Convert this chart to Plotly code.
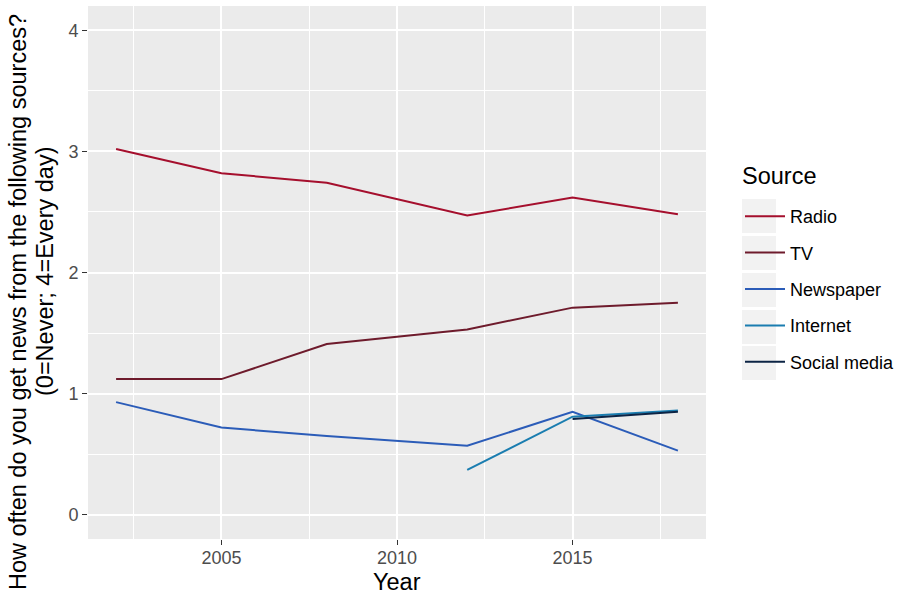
import plotly.graph_objects as go

# ---------------- data ----------------
years_all = [2002, 2005, 2008, 2012, 2015, 2018]
radio = [3.02, 2.82, 2.74, 2.47, 2.62, 2.48]
tv = [1.12, 1.12, 1.41, 1.53, 1.71, 1.75]
newspaper = [0.93, 0.72, 0.65, 0.57, 0.85, 0.53]
years_internet = [2012, 2015, 2018]
internet = [0.37, 0.81, 0.86]
years_social = [2015, 2018]
social_media = [0.79, 0.85]

series_names = ["Radio", "TV", "Newspaper", "Internet", "Social media"]
series_x = [years_all, years_all, years_all, years_internet, years_social]
series_y = [radio, tv, newspaper, internet, social_media]
series_colors = ["#a50f2d", "#6e1b2c", "#2b5cb8", "#1a7db0", "#0c2445"]

x_ticks = [2005, 2010, 2015]
y_ticks = [0, 1, 2, 3, 4]

y_title_1 = "How often do you get news from the following sources?"
y_title_2 = "(0=Never; 4=Every day)"
x_title = "Year"
legend_title = "Source"

# ---------------- layout constants (pixels) ----------------
W, H = 921, 600
L, R, T, B = 88, 215, 6, 61
PW, PH = W - L - R, H - T - B
FONT = "Liberation Sans, Arial, sans-serif"
TITLE_SIZE = 23.5
TEXT_SIZE = 18


def px_x(p):
    return (p - L) / PW


def px_y(p):
    return (H - B - p) / PH


fig = go.Figure()
for name, xs, ys, col in zip(series_names, series_x, series_y, series_colors):
    fig.add_trace(go.Scatter(
        x=xs, y=ys, mode="lines", name=name, legendgroup=name,
        line=dict(color=col, width=2),
    ))

# legend key backgrounds
entry_centers = [216, 253, 290, 327, 363]
shapes = []
for c in entry_centers:
    shapes.append(dict(type="rect", xref="paper", yref="paper",
                       x0=px_x(742), x1=px_x(776), y0=px_y(c + 17), y1=px_y(c - 17),
                       fillcolor="#f2f2f2", line=dict(width=0), layer="below"))

axis_common = dict(
    showline=False, zeroline=False, ticks="outside", ticklen=5, tickwidth=1.2,
    tickcolor="#333333", gridcolor="#ffffff", gridwidth=1.6,
    tickfont=dict(family=FONT, size=TEXT_SIZE, color="#4d4d4d"),
)

fig.update_layout(
    width=W, height=H,
    margin=dict(l=L, r=R, t=T, b=B, autoexpand=False),
    paper_bgcolor="#ffffff", plot_bgcolor="#ebebeb",
    font=dict(family=FONT, color="#000000"),
    xaxis=dict(range=[2001.2, 2018.8], tickvals=x_ticks, ticklabelstandoff=-3,
               **axis_common,
               minor=dict(tickvals=[2002.5, 2007.5, 2012.5, 2017.5], showgrid=True,
                          gridcolor="#ffffff", gridwidth=0.8, ticks="")),
    yaxis=dict(range=[-0.2, 4.2], tickvals=y_ticks, **axis_common,
               minor=dict(tickvals=[0.5, 1.5, 2.5, 3.5], showgrid=True,
                          gridcolor="#ffffff", gridwidth=0.8, ticks="")),
    showlegend=True,
    legend=dict(
        x=px_x(740), y=px_y(198), xanchor="left", yanchor="top",
        bgcolor="rgba(0,0,0,0)", borderwidth=0,
        font=dict(family=FONT, size=TEXT_SIZE, color="#000000"),
        itemwidth=40, tracegroupgap=10, itemclick=False,
    ),
    shapes=shapes,
    annotations=[
        dict(text=legend_title, xref="paper", yref="paper", x=px_x(740), y=px_y(176),
             xanchor="left", yanchor="middle", showarrow=False,
             font=dict(family=FONT, size=TITLE_SIZE, color="#000000")),
        dict(text=x_title, xref="paper", yref="paper", x=0.5, y=px_y(582),
             xanchor="center", yanchor="middle", showarrow=False,
             font=dict(family=FONT, size=TITLE_SIZE, color="#000000")),
        dict(text=y_title_1, xref="paper", yref="paper", x=px_x(18), y=px_y(592),
             xanchor="center", yanchor="bottom", textangle=-90, showarrow=False,
             font=dict(family=FONT, size=TITLE_SIZE, color="#000000")),
        dict(text=y_title_2, xref="paper", yref="paper", x=px_x(45), y=px_y(272),
             xanchor="center", yanchor="middle", textangle=-90, showarrow=False,
             font=dict(family=FONT, size=TITLE_SIZE, color="#000000")),
    ],
)

fig.write_html("out.html", config={"displayModeBar": False},
               post_script="document.body.style.margin='0px';")
